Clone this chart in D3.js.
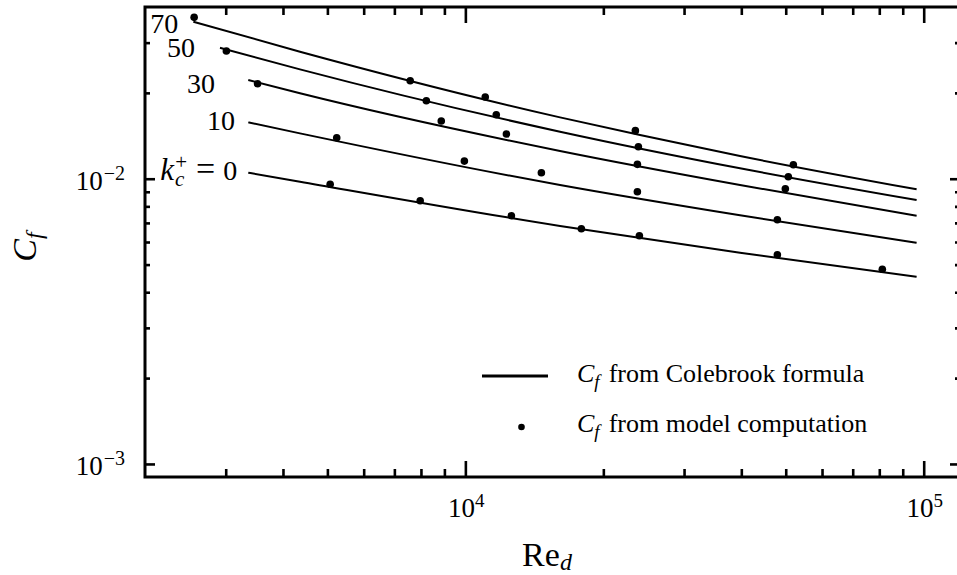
<!DOCTYPE html>
<html>
<head>
<meta charset="utf-8">
<script src="https://cdnjs.cloudflare.com/ajax/libs/d3/7.8.5/d3.min.js"></script>
<style>
  body { margin: 0; background: #fff; }
  text { font-family: "Liberation Serif", "DejaVu Serif", serif; fill: #000; }
</style>
</head>
<body>
<script>
var WIDTH = 957;
var HEIGHT = 575;

// Colebrook curves: [Re_d, C_f]
var cole70 = [[2550, 0.03553], [4357, 0.02788], [16090, 0.01641], [24050, 0.01423], [39740, 0.01201], [96500, 0.009181]];
var cole50 = [[2915, 0.02879], [4357, 0.02418], [16090, 0.01462], [39740, 0.01088], [96500, 0.00842]];
var cole30 = [[3360, 0.02218], [4357, 0.01993], [16090, 0.01251], [39740, 0.009505], [96500, 0.007419]];
var cole10 = [[3360, 0.01576], [4357, 0.01442], [16090, 0.009505], [39740, 0.007443], [96500, 0.005965]];
var cole0 = [[3360, 0.0105], [4357, 0.009761], [16090, 0.00683], [39740, 0.005501], [96500, 0.004533]];

// model computation points: [Re_d, C_f]
var model70 = [[2560, 0.0368], [7580, 0.02206], [11050, 0.01934], [23490, 0.01474], [51950, 0.01119]];
var model50 = [[3010, 0.02804], [8220, 0.01877], [11680, 0.01677], [23850, 0.01295], [50660, 0.01016]];
var model30 = [[3520, 0.02153], [8860, 0.01593], [12290, 0.01434], [23730, 0.01123], [49900, 0.009226]];
var model10 = [[5240, 0.01392], [9950, 0.01153], [14650, 0.0105], [23730, 0.009005], [47940, 0.007183]];
var model0 = [[5070, 0.009559], [7970, 0.008373], [12600, 0.007419], [17910, 0.006679], [23970, 0.006312], [47940, 0.005413], [81230, 0.004813]];

// k_c^+ labels and where they sit (right end, baseline) in data coords
var kValues = ["70", "50", "30", "10", "0"];
var kLabelAt = [[2364, 0.03243], [2572, 0.02671], [2843, 0.01998], [3144, 0.01482], [3180, 0.009896]];

var xDomain = [2000, 120000];
var yDomain = [0.0009, 0.04];
var xMajor = [1e4, 1e5];
var xMinor = [3000, 4000, 5000, 6000, 7000, 8000, 9000, 20000, 30000, 40000, 50000, 60000, 70000, 80000, 90000];
var yMajor = [1e-3, 1e-2];
var yMinor = [0.002, 0.003, 0.004, 0.005, 0.006, 0.007, 0.008, 0.009, 0.02, 0.03];
var xExp = ["4", "5"];
var yExp = ["\u22123", "\u22122"];

var plotL = 145, plotR = 960, plotT = 7, plotB = 477;

var svg = d3.select("body")
  .append("svg")
  .attr("width", WIDTH)
  .attr("height", HEIGHT);

svg.append("rect").attr("width", WIDTH).attr("height", HEIGHT).attr("fill", "#fff");

var x = d3.scaleLog().domain(xDomain).range([plotL, plotR]);
var y = d3.scaleLog().domain(yDomain).range([plotB, plotT]);

// ticks, all pointing inwards
function tickGroup(axis, translate) {
  var g = svg.append("g").attr("transform", translate).call(axis);
  g.select(".domain").remove();
  g.selectAll("line").attr("stroke", "#000").attr("stroke-width", 2.6);
  g.selectAll("text").remove();
  return g;
}
tickGroup(d3.axisBottom(x).tickValues(xMinor).tickSize(-8), "translate(0," + plotB + ")");
tickGroup(d3.axisBottom(x).tickValues(xMajor).tickSize(-16), "translate(0," + plotB + ")");
tickGroup(d3.axisTop(x).tickValues(xMinor).tickSize(-8), "translate(0," + plotT + ")");
tickGroup(d3.axisTop(x).tickValues(xMajor).tickSize(-16), "translate(0," + plotT + ")");
tickGroup(d3.axisLeft(y).tickValues(yMinor).tickSize(-5), "translate(" + plotL + ",0)");
tickGroup(d3.axisLeft(y).tickValues(yMajor).tickSize(-10), "translate(" + plotL + ",0)");
tickGroup(d3.axisRight(y).tickValues(yMinor).tickSize(-5), "translate(" + plotR + ",0)");
tickGroup(d3.axisRight(y).tickValues(yMajor).tickSize(-10), "translate(" + plotR + ",0)");

// frame
svg.append("rect")
  .attr("x", plotL).attr("y", plotT)
  .attr("width", plotR - plotL).attr("height", plotB - plotT)
  .attr("fill", "none").attr("stroke", "#000").attr("stroke-width", 3);

// tick labels
xMajor.forEach(function (v, i) {
  var t = svg.append("text")
    .attr("x", x(v) + 1).attr("y", plotB + 40)
    .attr("text-anchor", "middle")
    .style("font-size", "27px");
  t.append("tspan").text("10");
  t.append("tspan").attr("dy", -10).style("font-size", "19px").text(xExp[i]);
});
yMajor.forEach(function (v, i) {
  var t = svg.append("text")
    .attr("x", plotL - 20).attr("y", y(v) + 11)
    .attr("text-anchor", "end")
    .style("font-size", "27px");
  t.append("tspan").text("10");
  t.append("tspan").attr("dx", 1).attr("dy", -10).style("font-size", "20px").text(yExp[i]);
});

// axis titles
var xt = svg.append("text")
  .attr("x", 547).attr("y", 566)
  .attr("text-anchor", "middle")
  .style("font-size", "34px");
xt.append("tspan").text("Re");
xt.append("tspan").attr("dy", 4).style("font-size", "24px").style("font-style", "italic").text("d");

var yt = svg.append("text")
  .attr("transform", "translate(36,247) rotate(-90)")
  .attr("text-anchor", "middle")
  .style("font-size", "34px");
yt.append("tspan").style("font-style", "italic").text("C");
yt.append("tspan").attr("dy", 6).style("font-size", "24px").style("font-style", "italic").text("f");

// curves
var line = d3.line()
  .x(function (d) { return x(d[0]); })
  .y(function (d) { return y(d[1]); })
  .curve(d3.curveMonotoneX);

[cole70, cole50, cole30, cole10, cole0].forEach(function (c) {
  svg.append("path")
    .datum(c)
    .attr("d", line)
    .attr("fill", "none")
    .attr("stroke", "#000")
    .attr("stroke-width", 2);
});

// model points
[model70, model50, model30, model10, model0].forEach(function (m) {
  svg.append("g")
    .selectAll("circle")
    .data(m)
    .enter()
    .append("circle")
    .attr("cx", function (d) { return x(d[0]); })
    .attr("cy", function (d) { return y(d[1]); })
    .attr("r", 3.8)
    .attr("fill", "#000");
});

// curve labels
kValues.forEach(function (k, i) {
  var t = svg.append("text")
    .attr("x", x(kLabelAt[i][0])).attr("y", y(kLabelAt[i][1]))
    .attr("text-anchor", "end")
    .style("font-size", "28px");
  if (i < kValues.length - 1) {
    t.text(k);
  } else {
    t.append("tspan").style("font-style", "italic").style("font-size", "31px").text("k");
    t.append("tspan").attr("dx", 1).attr("dy", 6).style("font-size", "21px").style("font-style", "italic").text("c");
    t.append("tspan").attr("dx", -9).attr("dy", -17).style("font-size", "21px").text("+");
    t.append("tspan").attr("dx", 9).attr("dy", 11).style("font-size", "34px").text("=");
    t.append("tspan").attr("dx", 8).text(k);
  }
});

// legend
svg.append("line")
  .attr("x1", 482).attr("x2", 548)
  .attr("y1", 376).attr("y2", 376)
  .attr("stroke", "#000").attr("stroke-width", 3);
svg.append("circle")
  .attr("cx", 521.5).attr("cy", 427)
  .attr("r", 3.3).attr("fill", "#000");

var legendText = ["from Colebrook formula", "from model computation"];
legendText.forEach(function (s, i) {
  var t = svg.append("text")
    .attr("x", 577).attr("y", 382 + i * 50)
    .style("font-size", "26px");
  t.append("tspan").style("font-style", "italic").text("C");
  t.append("tspan").attr("dy", 6).style("font-size", "19px").style("font-style", "italic").text("f");
  t.append("tspan").attr("dx", 9).attr("dy", -6).text(s);
});
</script>
</body>
</html>
